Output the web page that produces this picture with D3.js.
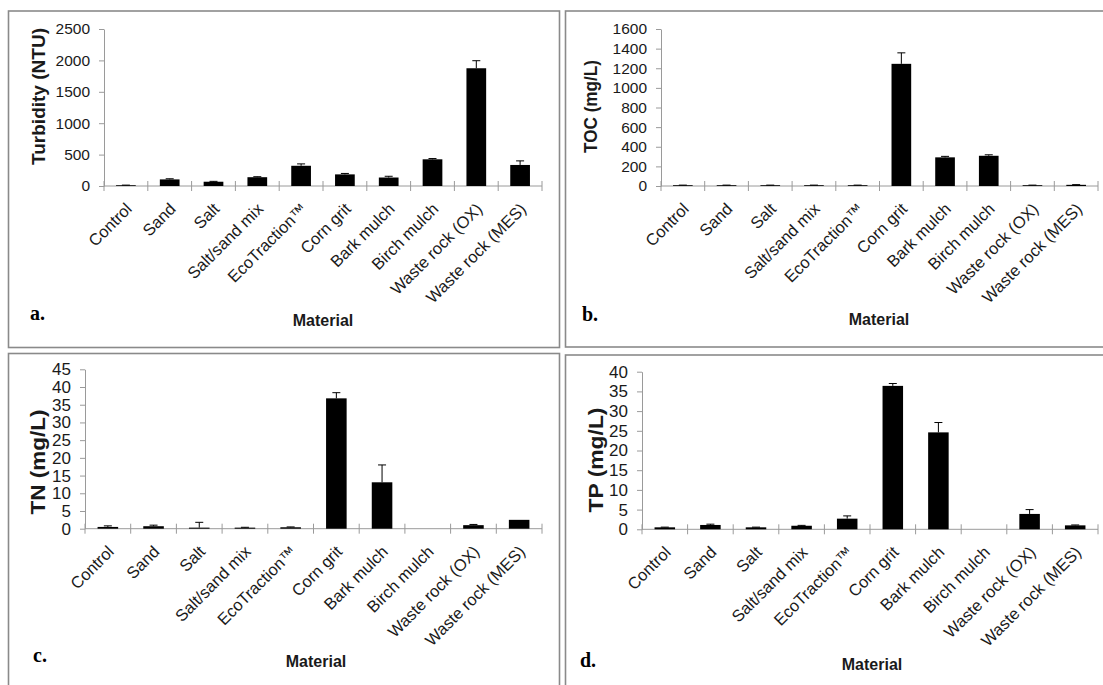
<!DOCTYPE html>
<html>
<head>
<meta charset="utf-8">
<script src="https://cdn.jsdelivr.net/npm/d3@7/dist/d3.min.js"></script>
<style>
  html, body { margin: 0; padding: 0; background: #fff; }
  svg { display: block; }
</style>
</head>
<body>
<svg id="chart" width="1103" height="685"></svg>
<script>
const categories = ["Control", "Sand", "Salt", "Salt/sand mix", "EcoTraction\u2122", "Corn grit",
  "Bark mulch", "Birch mulch", "Waste rock (OX)", "Waste rock (MES)"];

const turbidity    = [12, 105, 68, 140, 322, 185, 135, 425, 1875, 335];
const turbidityErr = [2, 10, 6, 8, 30, 15, 20, 12, 120, 65];

const toc    = [8, 8, 8, 8, 8, 1245, 292, 308, 8, 12];
const tocErr = [1, 1, 1, 1, 1, 112, 10, 10, 1, 2];

const tn    = [0.5, 0.7, 0.3, 0.3, 0.4, 36.8, 13.1, 0, 1.0, 2.5];
const tnErr = [0.3, 0.3, 1.5, 0.1, 0.1, 1.6, 4.9, 0, 0.2, 0];

const tp    = [0.5, 1.1, 0.5, 0.9, 2.7, 36.4, 24.6, 0, 3.9, 1.0];
const tpErr = [0.05, 0.2, 0.05, 0.1, 0.7, 0.6, 2.5, 0, 1.1, 0.1];

const turbidityTicks = [0, 500, 1000, 1500, 2000, 2500];
const tocTicks = [0, 200, 400, 600, 800, 1000, 1200, 1400, 1600];
const tnTicks = [0, 5, 10, 15, 20, 25, 30, 35, 40, 45];
const tpTicks = [0, 5, 10, 15, 20, 25, 30, 35, 40];

const yTitles = ["Turbidity (NTU)", "TOC (mg/L)", "TN (mg/L)", "TP (mg/L)"];
const panelLetters = ["a.", "b.", "c.", "d."];
const xTitle = "Material";

const SANS = "'Liberation Sans', Arial, sans-serif";
const SERIF = "'Liberation Serif', 'Times New Roman', serif";

const svg = d3.select("#chart");

// panel frames
const frames = [
  {x: 8.5, y: 11, w: 551, h: 336.5},
  {x: 565.5, y: 11, w: 560, h: 336},
  {x: 8.5, y: 353.5, w: 551, h: 360},
  {x: 565.5, y: 355, w: 560, h: 360}
];
svg.selectAll("rect.frame").data(frames).enter().append("rect")
  .attr("class", "frame")
  .attr("x", d => d.x).attr("y", d => d.y)
  .attr("width", d => d.w).attr("height", d => d.h)
  .attr("fill", "none").attr("stroke", "#8a8a8a").attr("stroke-width", 1.6);

const layouts = [
  {left: 104, right: 542, y0: 186, yTop: 29, tickFont: 15.5, titleFont: 18, title: {x: 39, y: 96.5, len: 137}, letter: {x: 30, y: 320}, mat: {x: 323, y: 326}},
  {left: 661, right: 1098, y0: 186, yTop: 29, tickFont: 15.5, titleFont: 18, title: {x: 591, y: 106.5, len: 93}, letter: {x: 582, y: 321}, mat: {x: 879, y: 325}},
  {left: 85, right: 542, y0: 528.7, yTop: 369.3, tickFont: 17, titleFont: 21, title: {x: 38, y: 462, len: 105}, letter: {x: 33, y: 662}, mat: {x: 316, y: 667}},
  {left: 642, right: 1098, y0: 529.3, yTop: 371.7, tickFont: 17, titleFont: 21, title: {x: 596, y: 460, len: 105}, letter: {x: 580, y: 667}, mat: {x: 872, y: 670}}
];

const series = [
  {vals: turbidity, errs: turbidityErr, ticks: turbidityTicks},
  {vals: toc, errs: tocErr, ticks: tocTicks},
  {vals: tn, errs: tnErr, ticks: tnTicks},
  {vals: tp, errs: tpErr, ticks: tpTicks}
];

const axisColor = "#9a9a9a";

series.forEach((s, i) => {
  const L = layouts[i];
  const g = svg.append("g");
  const x = d3.scaleBand().domain(categories).range([L.left, L.right]).paddingInner(0).paddingOuter(0);
  const y = d3.scaleLinear().domain([0, d3.max(s.ticks)]).range([L.y0, L.yTop]);
  const bw = x.bandwidth() * 0.45;

  // y axis
  const ya = g.append("g").attr("transform", `translate(${L.left},0)`)
    .call(d3.axisLeft(y).tickValues(s.ticks).tickSize(5).tickSizeOuter(0).tickPadding(9).tickFormat(d3.format("d")));
  ya.select(".domain").attr("stroke", axisColor);
  ya.selectAll(".tick line").attr("stroke", axisColor);
  ya.selectAll(".tick text")
    .style("font-family", SANS).style("font-size", L.tickFont + "px").style("fill", "#1a1a1a");

  // x axis line
  g.append("line").attr("x1", L.left).attr("x2", L.right).attr("y1", y(0)).attr("y2", y(0))
    .attr("stroke", axisColor);
  const boundaries = d3.range(categories.length + 1).map(k => L.left + k * x.step());
  g.selectAll("line.xt").data(boundaries).enter().append("line")
    .attr("x1", d => d).attr("x2", d => d)
    .attr("y1", y(0) - 5).attr("y2", y(0) + 5)
    .attr("stroke", axisColor);

  // bars
  const data = categories.map((c, k) => ({c, v: s.vals[k], e: s.errs[k]}));
  g.selectAll("rect.bar").data(data.filter(d => d.v > 0)).enter().append("rect")
    .attr("x", d => x(d.c) + (x.bandwidth() - bw) / 2)
    .attr("width", bw)
    .attr("y", d => y(d.v))
    .attr("height", d => y(0) - y(d.v))
    .attr("fill", "#000");

  // error bars
  const eb = data.filter(d => d.v > 0 && d.e > 0);
  g.selectAll("line.err").data(eb).enter().append("line")
    .attr("x1", d => x(d.c) + x.bandwidth() / 2).attr("x2", d => x(d.c) + x.bandwidth() / 2)
    .attr("y1", d => y(d.v)).attr("y2", d => y(d.v + d.e))
    .attr("stroke", "#000").attr("stroke-width", 1);
  g.selectAll("line.cap").data(eb).enter().append("line")
    .attr("x1", d => x(d.c) + x.bandwidth() / 2 - 4).attr("x2", d => x(d.c) + x.bandwidth() / 2 + 4)
    .attr("y1", d => y(d.v + d.e)).attr("y2", d => y(d.v + d.e))
    .attr("stroke", "#000").attr("stroke-width", 1);

  // category labels
  g.selectAll("text.cat").data(categories).enter().append("text")
    .attr("transform", d => `translate(${x(d) + x.bandwidth() / 2 + 7},${y(0) + 24}) rotate(-45)`)
    .attr("text-anchor", "end")
    .style("font-family", SANS).style("font-size", "16.5px").style("fill", "#1a1a1a")
    .text(d => d);

  // y title
  g.append("text")
    .attr("transform", `translate(${L.title.x},${L.title.y}) rotate(-90)`)
    .attr("text-anchor", "middle").attr("dy", "0.35em")
    .style("font-family", SANS).style("font-size", L.titleFont + "px").style("font-weight", "bold").style("fill", "#1a1a1a")
    .attr("textLength", L.title.len).attr("lengthAdjust", "spacingAndGlyphs")
    .text(yTitles[i]);

  // x title
  g.append("text").attr("x", L.mat.x).attr("y", L.mat.y)
    .attr("text-anchor", "middle")
    .style("font-family", SANS).style("font-size", "16px").style("font-weight", "bold").style("fill", "#1a1a1a")
    .text(xTitle);

  // panel letter
  g.append("text").attr("x", L.letter.x).attr("y", L.letter.y)
    .style("font-family", SERIF).style("font-size", "20px").style("font-weight", "bold").style("fill", "#000")
    .text(panelLetters[i]);
});
</script>
</body>
</html>
